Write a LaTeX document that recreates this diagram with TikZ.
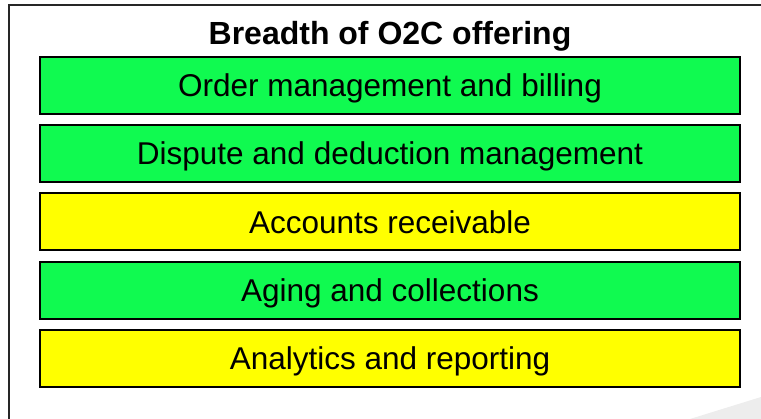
\documentclass[tikz,border=0pt]{standalone}
\usepackage{fontspec}
\setmainfont{Liberation Sans}
\usetikzlibrary{positioning}
\definecolor{o2cgreen}{RGB}{16,250,80}
\definecolor{o2cyellow}{RGB}{255,255,0}

\begin{document}
\begin{tikzpicture}[x=1pt,y=-1pt,
	area/.style={draw=black, line width=2pt, minimum width=700pt, minimum height=57pt,
		inner sep=0pt, text height=22.5pt, text depth=0pt, font=\fontsize{31.5}{38}\selectfont},
	node distance=9.25pt]
	\useasboundingbox (0,0) rectangle (761,419);
	\clip (0,0) rectangle (761,419);
	\draw[line width=2pt, draw=black!85] (9,5) rectangle (780,440);
	\fill[black!7] (690,419) -- (761,397) -- (761,419) -- cycle;

	\node[font=\bfseries\fontsize{32}{38}\selectfont, text height=23pt, text depth=0pt, inner sep=0pt]
		(title) at (390,33.5) {Breadth of O2C offering};
	\node[area, fill=o2cgreen]  (1) at (390,85.5) {Order management and billing};
	\node[area, fill=o2cgreen]  (2)[below=of 1] {Dispute and deduction management};
	\node[area, fill=o2cyellow] (3)[below=of 2] {Accounts receivable};
	\node[area, fill=o2cgreen]  (4)[below=of 3] {Aging and collections};
	\node[area, fill=o2cyellow] (5)[below=of 4] {Analytics and reporting};
\end{tikzpicture}
\end{document}
